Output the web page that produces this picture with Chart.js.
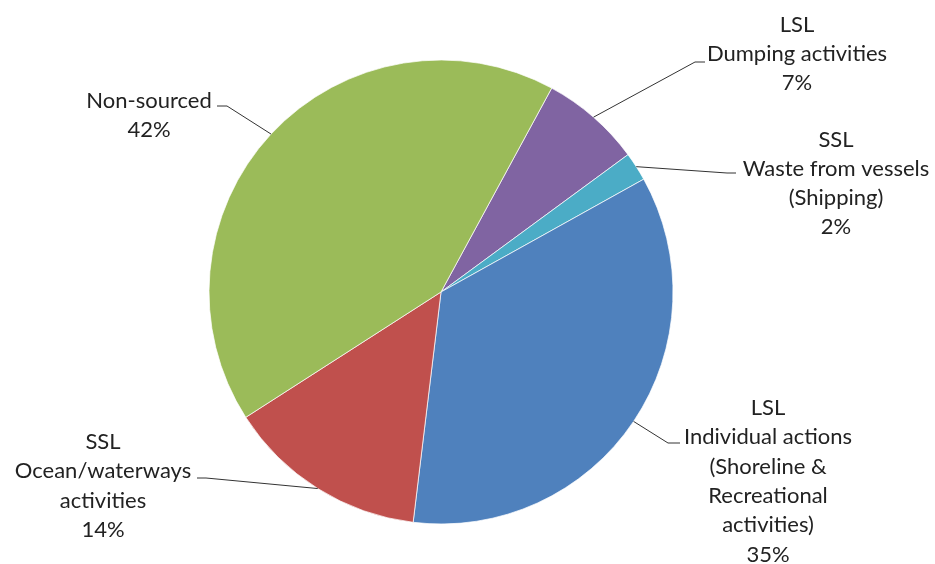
<!DOCTYPE html>
<html lang="en">

<head>
    <meta charset="UTF-8">
    <title>Marine litter sources</title>
    <script src="https://cdnjs.cloudflare.com/ajax/libs/Chart.js/4.4.1/chart.umd.min.js"></script>
    <style>
        html, body { margin: 0; padding: 0; background: #fff; }
        #wrap { width: 935px; height: 564px; position: relative; }
    </style>
</head>

<body>
    <div id="wrap">
        <canvas id="pieChart"></canvas>
    </div>

    <script>
        // Source categories (each entry is the label's lines)
        const categories = [
            ['LSL', 'Dumping activities'],
            ['SSL', 'Waste from vessels', '(Shipping)'],
            ['LSL', 'Individual actions', '(Shoreline &', 'Recreational', 'activities)'],
            ['SSL', 'Ocean/waterways', 'activities'],
            ['Non-sourced']
        ];
        const shares = [7, 2, 35, 14, 42];
        const colors = ['#8064A2', '#4BACC6', '#4F81BD', '#C0504D', '#9BBB59'];

        // where each label block sits and where its leader line bends
        const labelPlaces = [
            { x: 797, y: 25, lh: 29, elbow: [695, 62], end: [705, 62] },
            { x: 836, y: 140, lh: 29, elbow: [727, 173], end: [736, 173] },
            { x: 768, y: 408, lh: 29.3, elbow: [668, 443], end: [680, 443] },
            { x: 103, y: 442, lh: 29.3, elbow: [206, 478], end: [197, 478] },
            { x: 149, y: 101, lh: 29, elbow: [227, 106], end: [217, 106] }
        ];

        const leaderLabels = {
            id: 'leaderLabels',
            afterDatasetsDraw(chart) {
                const ctx = chart.ctx;
                const meta = chart.getDatasetMeta(0);
                const total = shares.reduce((a, b) => a + b, 0);
                ctx.save();
                meta.data.forEach((arc, i) => {
                    const p = labelPlaces[i];
                    const mid = (arc.startAngle + arc.endAngle) / 2;
                    const sx = arc.x + Math.cos(mid) * arc.outerRadius;
                    const sy = arc.y + Math.sin(mid) * arc.outerRadius;
                    ctx.strokeStyle = '#333';
                    ctx.lineWidth = 1;
                    ctx.beginPath();
                    ctx.moveTo(sx, sy);
                    ctx.lineTo(p.elbow[0], p.elbow[1]);
                    ctx.lineTo(p.end[0], p.end[1]);
                    ctx.stroke();

                    const lines = categories[i].concat(Math.round(shares[i] / total * 100) + '%');
                    ctx.fillStyle = '#222';
                    ctx.font = '22px Lato, "Open Sans", sans-serif';
                    ctx.textAlign = 'center';
                    ctx.textBaseline = 'middle';
                    lines.forEach((t, k) => ctx.fillText(t, p.x, p.y + k * p.lh));
                });
                ctx.restore();
            }
        };

        const ctx = document.getElementById('pieChart').getContext('2d');
        new Chart(ctx, {
            type: 'pie',
            data: {
                labels: categories.map(c => c.join(' ')),
                datasets: [{
                    data: shares,
                    backgroundColor: colors,
                    borderColor: 'rgba(255,255,255,0.7)',
                    borderWidth: 1
                }]
            },
            options: {
                responsive: true,
                maintainAspectRatio: false,
                animation: false,
                rotation: 28.5,
                radius: 232,
                layout: { padding: { left: 0, right: 53, top: 20, bottom: 0 } },
                plugins: {
                    legend: { display: false },
                    tooltip: { enabled: false }
                }
            },
            plugins: [leaderLabels]
        });
    </script>
</body>

</html>
